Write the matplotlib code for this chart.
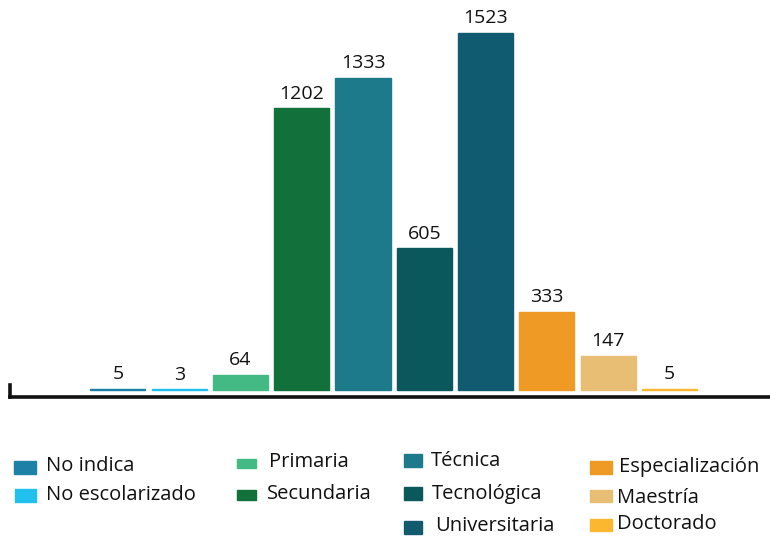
import matplotlib
matplotlib.use("Agg")
import matplotlib.pyplot as plt
from matplotlib.patches import Rectangle

plt.rcParams['font.family'] = ['Open Sans', 'DejaVu Sans']

categories = ["No indica", "No escolarizado", "Primaria", "Secundaria", "Técnica",
              "Tecnológica", "Universitaria", "Especialización", "Maestría", "Doctorado"]
values = [5, 3, 64, 1202, 1333, 605, 1523, 333, 147, 5]
colors = ["#1d80a6", "#1fc0ee", "#43b983", "#12703b", "#1d7a8a",
          "#0a575c", "#115b70", "#ee9a24", "#e8bd74", "#fbb730"]

W, H = 770, 539
fig = plt.figure(figsize=(W / 100, H / 100), dpi=100)
ax = fig.add_axes([10 / W, (H - 397) / H, 1 - 10 / W, 397 / H])

x = list(range(len(categories)))
ax.bar(x, values, width=0.90, color=colors, edgecolor=colors, linewidth=1.0, zorder=2)
for xi, v in zip(x, values):
    ax.annotate(str(v), (xi, v), xytext=(0, 4), textcoords="offset points",
                ha="center", va="bottom", fontsize=14, color="#111111")

ax.set_xlim(-1.76, 10.64)
ax.set_ylim(-30, 1664)
for s in ["top", "right"]:
    ax.spines[s].set_visible(False)
ax.spines["bottom"].set_linewidth(2.6)
ax.spines["left"].set_linewidth(2.6)
ax.spines["left"].set_bounds(-30, 20)
ax.spines["bottom"].set_color("#111111")
ax.spines["left"].set_color("#111111")
ax.set_xticks([])
ax.set_yticks([])
ax.patch.set_alpha(0)

# legend (pixel positions: square x0, x1, y0, y1, text x, text y)
legend_layout = [
    (14, 36, 461, 474, 46, 466),
    (15, 36, 489, 502, 46, 495),
    (237, 256, 459, 468, 269, 462),
    (237, 256, 490, 500, 267, 494),
    (404, 422, 454, 467, 431, 461),
    (404, 422, 487, 500, 432, 494),
    (404, 422, 521, 534, 435, 526),
    (590, 612, 461, 474, 619, 467),
    (590, 612, 490, 502, 617, 498),
    (590, 612, 519, 531, 617, 524),
]
for name, col, (x0, x1, y0, y1, tx, ty) in zip(categories, colors, legend_layout):
    fig.patches.append(Rectangle((x0 / W, 1 - y1 / H), (x1 - x0) / W, (y1 - y0) / H,
                                 transform=fig.transFigure, color=col))
    fig.text(tx / W, 1 - ty / H, name, ha="left", va="center", fontsize=14.5, color="#111111")

fig.savefig("out.png", dpi=100)
